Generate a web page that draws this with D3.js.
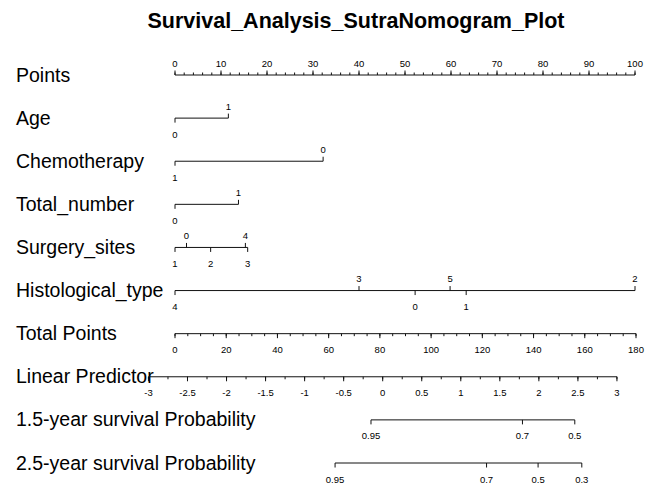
<!DOCTYPE html>
<html>
<head>
<meta charset="utf-8">
<script src="https://cdn.jsdelivr.net/npm/d3@7/dist/d3.min.js"></script>
<style>
  html, body { margin: 0; padding: 0; background: #fff; }
  svg text { font-family: "Liberation Sans", Arial, sans-serif; fill: #000; }
</style>
</head>
<body>
<svg id="chart" width="645" height="484"></svg>
<script>
// ---- nomogram data ----
const title = "Survival_Analysis_SutraNomogram_Plot";

const rowNames = ["Points", "Age", "Chemotherapy", "Total_number", "Surgery_sites",
  "Histological_type", "Total Points", "Linear Predictor",
  "1.5-year survival Probability", "2.5-year survival Probability"];

// points scale
const pointTicks = d3.range(0, 101, 10);
const pointMinor = d3.range(0, 101, 2);

// predictor levels and their points
const ageLevels = ["0", "1"];
const agePoints = [0, 11.6];
const chemoLevels = ["1", "0"];
const chemoPoints = [0, 32.2];
const totalNumberLevels = ["0", "1"];
const totalNumberPoints = [0, 13.8];
const surgeryLevels = ["1", "0", "2", "4", "3"];
const surgeryPoints = [0, 2.5, 7.75, 15.3, 15.8];
const histLevels = ["4", "3", "0", "5", "1", "2"];
const histPoints = [0, 40, 52.2, 59.8, 63.3, 100];

// total points axis
const totalTicks = d3.range(0, 181, 20);
const totalMinor = d3.range(0, 181, 5);

// linear predictor axis (lp = lpIntercept + lpSlope * totalPoints)
const lpIntercept = -2.66;
const lpSlope = 0.0328;
const lpTicks = ["-3", "-2.5", "-2", "-1.5", "-1", "-0.5", "0", "0.5", "1", "1.5", "2", "2.5", "3"];
const lpMinor = d3.range(-3, 3.001, 0.25);

// survival probability ticks and their linear predictor values
const surv15Probs = ["0.95", "0.7", "0.5"];
const surv15Lp = [-0.15, 1.79, 2.46];
const surv25Probs = ["0.95", "0.7", "0.5", "0.3"];
const surv25Lp = [-0.61, 1.33, 1.99, 2.55];

// ---- layout ----
const svg = d3.select("#chart");
const x0 = 175, x1 = 635;
const xPts = d3.scaleLinear().domain([0, 100]).range([x0, x1]);
const xTot = d3.scaleLinear().domain([0, 180]).range([x0, x1 + 1]);
const xLp = lp => xTot((lp - lpIntercept) / lpSlope);
const yRow = d3.scalePoint().domain(rowNames).range([75, 463]);

const tickFont = 9.5;
const stroke = "#111";

svg.append("text")
  .attr("x", 356).attr("y", 28)
  .attr("text-anchor", "middle")
  .style("font-size", "21.5px").style("font-weight", "bold")
  .text(title);

// row labels
svg.selectAll("text.rowlab").data(rowNames).join("text")
  .attr("class", "rowlab")
  .attr("x", 16)
  .attr("y", d => yRow(d) + 6.5)
  .style("font-size", "19.5px")
  .text(d => d);

// generic scale row: line, ticks and labels
function scaleRow(name, xs, labels, opts) {
  const y = yRow(name);
  const g = svg.append("g");
  const lo = d3.min(xs), hi = d3.max(xs);
  g.append("line").attr("x1", lo).attr("x2", hi).attr("y1", y).attr("y2", y)
    .attr("stroke", stroke).attr("stroke-width", 1);
  if (opts.minor) {
    g.selectAll("line.mn").data(opts.minor).join("line")
      .attr("x1", d => d).attr("x2", d => d)
      .attr("y1", y).attr("y2", y + opts.dir * 2.5)
      .attr("stroke", stroke).attr("stroke-width", 1);
  }
  xs.forEach((x, i) => {
    const dir = opts.sides ? opts.sides[i] : opts.dir;
    g.append("line").attr("x1", x).attr("x2", x)
      .attr("y1", y).attr("y2", y + dir * 4.5)
      .attr("stroke", stroke).attr("stroke-width", 1);
    g.append("text")
      .attr("x", x)
      .attr("y", dir < 0 ? y - 8.5 : y + 19.5)
      .attr("text-anchor", "middle")
      .style("font-size", tickFont + "px")
      .text(labels[i]);
  });
}

// Points
scaleRow("Points", pointTicks.map(xPts), pointTicks.map(String),
  { dir: -1, minor: pointMinor.map(xPts) });

// predictors: labels alternate below / above in order of points
function predictorRow(name, levels, pts) {
  const order = d3.range(pts.length).sort((a, b) => pts[a] - pts[b]);
  const sides = new Array(pts.length);
  order.forEach((idx, k) => { sides[idx] = k % 2 === 0 ? 1 : -1; });
  scaleRow(name, pts.map(xPts), levels, { sides: sides });
}
predictorRow("Age", ageLevels, agePoints);
predictorRow("Chemotherapy", chemoLevels, chemoPoints);
predictorRow("Total_number", totalNumberLevels, totalNumberPoints);
predictorRow("Surgery_sites", surgeryLevels, surgeryPoints);
predictorRow("Histological_type", histLevels, histPoints);

// Total points
scaleRow("Total Points", totalTicks.map(xTot), totalTicks.map(String),
  { dir: 1, minor: totalMinor.map(xTot) });

// Linear predictor
scaleRow("Linear Predictor", lpTicks.map(d => xLp(+d)), lpTicks,
  { dir: 1, minor: lpMinor.map(xLp) });

// survival probabilities
scaleRow("1.5-year survival Probability", surv15Lp.map(xLp), surv15Probs, { dir: 1 });
scaleRow("2.5-year survival Probability", surv25Lp.map(xLp), surv25Probs, { dir: 1 });
</script>
</body>
</html>
